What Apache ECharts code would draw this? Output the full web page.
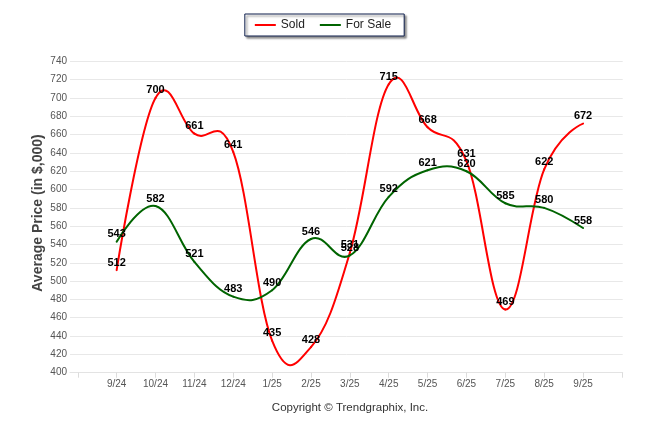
<!DOCTYPE html>
<html>
<head>
<meta charset="utf-8">
<script src="https://cdn.jsdelivr.net/npm/echarts@6/dist/echarts.min.js"></script>
<style>
html,body{margin:0;padding:0;background:#fff;}
#c{width:646px;height:434px;}
</style>
</head>
<body>
<div id="c"></div>
<script>
const categories = ['9/24','10/24','11/24','12/24','1/25','2/25','3/25','4/25','5/25','6/25','7/25','8/25','9/25'];
const sold = [512,700,661,641,435,428,531,715,668,631,469,622,672];
const forSale = [543,582,521,483,490,546,528,592,621,620,585,580,558];
const yTicks = [400,420,440,460,480,500,520,540,560,580,600,620,640,660,680,700,720,740];
const yAxisTitle = 'Average Price (in $,000)';
const copyright = 'Copyright \u00A9 Trendgraphix, Inc.';

const idx = categories.map((c,i)=>i);
const tickIdx = [-1].concat(idx, [categories.length]);
const toPairs = arr => arr.map((v,i)=>[i,v]);
const FONT = 'Liberation Sans, Arial, sans-serif';

// spline segment renderer (Highcharts-like spline), points come from the axes via api.coord
function splineRenderer(vals, color){
  return function(params, api){
    const i = params.dataIndex;
    if (i === 0) return {type:'group', children:[]};
    const pts = vals.map((v,k)=>api.coord([k, v]));
    const s = 1.5, d = 2.5;
    function cp(k){
      if (k <= 0 || k >= pts.length-1) return null;
      const [x,y] = pts[k], [lx,ly] = pts[k-1], [nx,ny] = pts[k+1];
      let lcx=(s*x+lx)/d, lcy=(s*y+ly)/d, rcx=(s*x+nx)/d, rcy=(s*y+ny)/d;
      const corr = ((rcy-lcy)*(rcx-x))/(rcx-lcx) + y - rcy;
      return {lcx, lcy:lcy+corr, rcx, rcy:rcy+corr};
    }
    const a = cp(i-1), b = cp(i);
    const p0 = pts[i-1], p1 = pts[i];
    return {
      type:'bezierCurve',
      shape:{
        x1:p0[0], y1:p0[1], x2:p1[0], y2:p1[1],
        cpx1: a ? a.rcx : p0[0], cpy1: a ? a.rcy : p0[1],
        cpx2: b ? b.lcx : p1[0], cpy2: b ? b.lcy : p1[1]
      },
      style:{stroke:color, lineWidth:2, fill:null, lineCap:'round'}
    };
  };
}

const chart = echarts.init(document.getElementById('c'), null, {renderer:'canvas'});
const labelCfg = {
  show:true, position:'top', distance:2,
  color:'#000', fontWeight:'bold', fontSize:11, fontFamily:FONT
};
chart.setOption({
  animation:false,
  backgroundColor:'#fff',
  legend:{
    top:14, left:'center',
    data:[{name:'Sold', itemStyle:{color:'#ff0000'}},{name:'For Sale', itemStyle:{color:'#006400'}}],
    icon:'rect', itemWidth:21, itemHeight:2, itemGap:15,
    padding:[5,13,5,10],
    borderColor:'#0e1f4d', borderWidth:1,
    backgroundColor:'#fff',
    shadowColor:'rgba(0,0,0,0.45)', shadowBlur:2, shadowOffsetX:2, shadowOffsetY:2,
    textStyle:{fontSize:12, color:'#222', fontFamily:FONT}
  },
  grid:{left:70, right:23.3, top:61.3, bottom:61.3, containLabel:false},
  xAxis:{
    type:'value', min:-1.2, max:13.02,
    splitLine:{show:false},
    axisLine:{show:true, lineStyle:{color:'#e3e3e3', width:1}},
    axisTick:{show:true, customValues:tickIdx, length:5, lineStyle:{color:'#dcdcdc'}},
    axisLabel:{
      customValues:idx, margin:7,
      formatter:v=>categories[Math.round(v)] || '',
      color:'#555', fontSize:10, fontFamily:FONT
    }
  },
  yAxis:{
    type:'value', min:yTicks[0], max:yTicks[yTicks.length-1], interval:20,
    axisLine:{show:false}, axisTick:{show:false},
    splitLine:{lineStyle:{color:'#e8e8e8', width:1}},
    axisLabel:{color:'#555', fontSize:10, margin:3, fontFamily:FONT}
  },
  graphic:[
    {type:'text', x:38, y:213, rotation:Math.PI/2,
     style:{text:yAxisTitle, fill:'#444', fontSize:14, fontWeight:'bold', fontFamily:FONT, textAlign:'center', textVerticalAlign:'middle'}},
    {type:'text', x:350, y:402,
     style:{text:copyright, fill:'#333', fontSize:11.5, fontFamily:FONT, textAlign:'center'}}
  ],
  series:[
    {name:'Sold', type:'custom', data:toPairs(sold), encode:{x:0,y:1},
     renderItem:splineRenderer(sold, '#ff0000'), itemStyle:{color:'#ff0000'}, silent:true, z:2},
    {name:'For Sale', type:'custom', data:toPairs(forSale), encode:{x:0,y:1},
     renderItem:splineRenderer(forSale, '#006400'), itemStyle:{color:'#006400'}, silent:true, z:3},
    {name:'Sold', type:'line', data:toPairs(sold),
     symbol:'circle', symbolSize:0, showSymbol:true,
     lineStyle:{opacity:0}, itemStyle:{color:'#ff0000'},
     label:labelCfg, z:4},
    {name:'For Sale', type:'line', data:toPairs(forSale),
     symbol:'circle', symbolSize:0, showSymbol:true,
     lineStyle:{opacity:0}, itemStyle:{color:'#006400'},
     label:labelCfg, z:5}
  ]
});
</script>
</body>
</html>
